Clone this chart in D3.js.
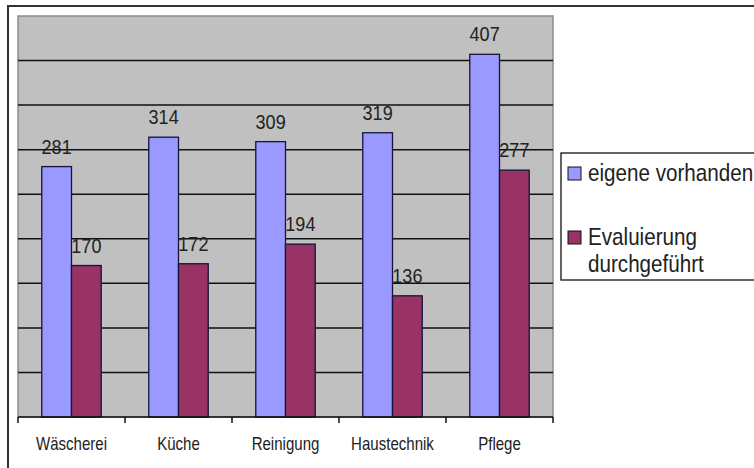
<!DOCTYPE html>
<html>
<head>
<meta charset="utf-8">
<script src="https://cdn.jsdelivr.net/npm/d3@7"></script>
<style>
  html, body { margin: 0; padding: 0; background: #fff; }
  svg { display: block; }
  text { font-family: "Liberation Sans", Arial, sans-serif; fill: #222; }
</style>
</head>
<body>
<svg id="chart" width="754" height="468"></svg>
<script>
// Kategorien und Werte
const categories = ["Wäscherei", "Küche", "Reinigung", "Haustechnik", "Pflege"];
const seriesNames = ["eigene vorhanden", "Evaluierung durchgeführt"];
const eigeneVorhanden = [281, 314, 309, 319, 407];
const evaluierungDurchgefuehrt = [170, 172, 194, 136, 277];
const gridValues = [50, 100, 150, 200, 250, 300, 350, 400];

const seriesColors = ["#9999ff", "#993366"];
const seriesValues = [eigeneVorhanden, evaluierungDurchgefuehrt];

const svg = d3.select("#chart");
const plot = { left: 18, right: 553, top: 16, bottom: 417 };
const squeeze = 0.86; // schmale Schrift

// Äußerer Rahmen
svg.append("rect")
  .attr("x", 8).attr("y", 6)
  .attr("width", 800).attr("height", 500)
  .attr("fill", "#fff")
  .attr("stroke", "#333").attr("stroke-width", 2);

const x0 = d3.scaleBand().domain(categories).range([plot.left, plot.right]).paddingInner(0).paddingOuter(0);
const x1 = d3.scaleBand().domain([0, 1]).range([0, x0.bandwidth()]).paddingInner(0).paddingOuter(0.8);
const y = d3.scaleLinear().domain([0, 450]).range([plot.bottom, plot.top]);

// Zeichenfläche
svg.append("rect")
  .attr("x", plot.left).attr("y", plot.top)
  .attr("width", plot.right - plot.left).attr("height", plot.bottom - plot.top)
  .attr("fill", "#c0c0c0")
  .attr("stroke", "#8c8c8c").attr("stroke-width", 1.5);

// Gitternetzlinien
svg.append("g").selectAll("line").data(gridValues).join("line")
  .attr("x1", plot.left).attr("x2", plot.right)
  .attr("y1", d => y(d)).attr("y2", d => y(d))
  .attr("stroke", "#111").attr("stroke-width", 1.5);

// Balken
const rows = categories.map((c, i) => ({ cat: c, vals: seriesValues.map(s => s[i]) }));
const groups = svg.append("g").selectAll("g").data(rows).join("g")
  .attr("transform", d => `translate(${x0(d.cat)},0)`);

groups.selectAll("rect").data(d => d.vals.map((v, k) => ({ v, k }))).join("rect")
  .attr("x", d => x1(d.k))
  .attr("width", x1.bandwidth())
  .attr("y", d => y(d.v))
  .attr("height", d => y(0) - y(d.v))
  .attr("fill", d => seriesColors[d.k])
  .attr("stroke", "#14143a").attr("stroke-width", 1.3);

// Wertbeschriftungen
groups.selectAll("text").data(d => d.vals.map((v, k) => ({ v, k }))).join("text")
  .attr("transform", d => `translate(${x1(d.k) + x1.bandwidth() / 2},${y(d.v) - 13}) scale(${squeeze},1)`)
  .attr("text-anchor", "middle")
  .attr("font-size", 21)
  .text(d => d.v);

// Kategorienachse
const axis = svg.append("g");
axis.append("line")
  .attr("x1", plot.left).attr("x2", plot.right)
  .attr("y1", plot.bottom).attr("y2", plot.bottom)
  .attr("stroke", "#111").attr("stroke-width", 1.5);
const tickPos = categories.map(c => x0(c)).concat([x0(categories[categories.length - 1]) + x0.bandwidth()]);
axis.selectAll("line.tick").data(tickPos).join("line")
  .attr("class", "tick")
  .attr("x1", d => d).attr("x2", d => d)
  .attr("y1", plot.bottom).attr("y2", plot.bottom + 6)
  .attr("stroke", "#111").attr("stroke-width", 1.5);
axis.selectAll("text").data(categories).join("text")
  .attr("transform", d => `translate(${x0(d) + x0.bandwidth() / 2},${plot.bottom + 33}) scale(${squeeze},1)`)
  .attr("text-anchor", "middle")
  .attr("font-size", 17.5)
  .text(d => d);

// Legende
const legend = svg.append("g");
legend.append("rect")
  .attr("x", 561).attr("y", 153)
  .attr("width", 220).attr("height", 127)
  .attr("fill", "#fff")
  .attr("stroke", "#111").attr("stroke-width", 1.3);

const legendItems = [
  { lines: ["eigene vorhanden"], y: 181 },
  { lines: ["Evaluierung", "durchgeführt"], y: 245 }
];
legendItems.forEach((item, k) => {
  legend.append("rect")
    .attr("x", 568).attr("y", item.y - 14)
    .attr("width", 13).attr("height", 13)
    .attr("fill", seriesColors[k])
    .attr("stroke", "#111").attr("stroke-width", 1);
  item.lines.forEach((ln, j) => {
    legend.append("text")
      .attr("transform", `translate(588,${item.y + j * 27}) scale(${squeeze},1)`)
      .attr("font-size", 24)
      .text(ln);
  });
});
</script>
</body>
</html>
